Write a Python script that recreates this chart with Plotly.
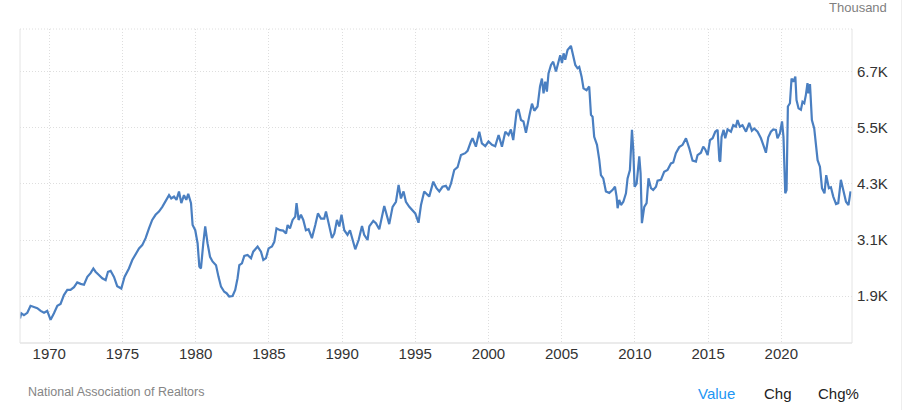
import plotly.graph_objects as go

# Existing home sales (thousand units, annualized)
years = [
    1968.00, 1968.09, 1968.27, 1968.50, 1968.72, 1968.95, 1969.18, 1969.41, 1969.64, 1969.86,
    1970.09, 1970.32, 1970.55, 1970.77, 1971.00, 1971.23, 1971.45, 1971.69, 1971.91, 1972.14,
    1972.37, 1972.60, 1972.82, 1973.01, 1973.16, 1973.39, 1973.62, 1973.85, 1974.01, 1974.19,
    1974.42, 1974.64, 1974.92, 1975.14, 1975.44, 1975.67, 1975.89, 1976.13, 1976.35, 1976.58,
    1976.81, 1977.03, 1977.26, 1977.49, 1977.72, 1977.94, 1978.18, 1978.33, 1978.52, 1978.69,
    1978.86, 1979.02, 1979.20, 1979.36, 1979.49, 1979.68, 1979.79, 1979.97, 1980.13, 1980.25,
    1980.36, 1980.52, 1980.65, 1980.81, 1980.98, 1981.15, 1981.39, 1981.56, 1981.73, 1981.95,
    1982.11, 1982.29, 1982.52, 1982.70, 1982.86, 1982.98, 1983.16, 1983.32, 1983.54, 1983.78,
    1983.93, 1984.23, 1984.46, 1984.62, 1984.80, 1984.98, 1985.21, 1985.37, 1985.52, 1985.76,
    1985.98, 1986.17, 1986.28, 1986.44, 1986.62, 1986.80, 1986.89, 1987.03, 1987.19, 1987.35,
    1987.53, 1987.71, 1987.94, 1988.17, 1988.35, 1988.56, 1988.78, 1988.90, 1989.08, 1989.31,
    1989.47, 1989.65, 1989.81, 1989.96, 1990.15, 1990.37, 1990.54, 1990.71, 1990.90, 1991.13,
    1991.36, 1991.51, 1991.74, 1991.86, 1992.13, 1992.31, 1992.54, 1992.88, 1993.04, 1993.22,
    1993.45, 1993.68, 1993.86, 1994.02, 1994.20, 1994.36, 1994.59, 1994.81, 1995.00, 1995.22,
    1995.39, 1995.61, 1995.95, 1996.23, 1996.45, 1996.64, 1996.86, 1997.09, 1997.27, 1997.44,
    1997.66, 1997.89, 1998.12, 1998.41, 1998.57, 1998.80, 1998.91, 1999.14, 1999.37, 1999.55,
    1999.78, 2000.00, 2000.24, 2000.46, 2000.69, 2000.92, 2001.15, 2001.37, 2001.53, 2001.69,
    2001.92, 2002.05, 2002.22, 2002.39, 2002.56, 2002.79, 2002.97, 2003.13, 2003.35, 2003.52,
    2003.65, 2003.76, 2003.88, 2003.99, 2004.10, 2004.27, 2004.42, 2004.61, 2004.79, 2004.90,
    2005.02, 2005.13, 2005.24, 2005.40, 2005.63, 2005.79, 2005.93, 2006.08, 2006.20, 2006.36,
    2006.49, 2006.70, 2006.88, 2007.00, 2007.11, 2007.22, 2007.41, 2007.57, 2007.68, 2007.84,
    2008.02, 2008.25, 2008.47, 2008.64, 2008.75, 2008.82, 2008.93, 2009.05, 2009.21, 2009.39,
    2009.50, 2009.66, 2009.80, 2009.89, 2009.98, 2010.12, 2010.30, 2010.39, 2010.48, 2010.64,
    2010.80, 2010.93, 2011.10, 2011.25, 2011.44, 2011.55, 2011.78, 2012.00, 2012.23, 2012.46,
    2012.62, 2012.80, 2013.03, 2013.26, 2013.49, 2013.71, 2013.94, 2014.17, 2014.28, 2014.51,
    2014.67, 2014.81, 2014.97, 2015.13, 2015.31, 2015.49, 2015.65, 2015.77, 2015.83, 2015.92,
    2016.06, 2016.17, 2016.33, 2016.56, 2016.72, 2016.90, 2017.01, 2017.17, 2017.35, 2017.59,
    2017.81, 2017.99, 2018.15, 2018.38, 2018.61, 2018.77, 2018.95, 2019.11, 2019.29, 2019.45,
    2019.63, 2019.74, 2019.91, 2020.05, 2020.15, 2020.27, 2020.36, 2020.45, 2020.59, 2020.70,
    2020.82, 2020.96, 2021.04, 2021.18, 2021.34, 2021.45, 2021.57, 2021.68, 2021.79, 2021.86,
    2021.96, 2022.09, 2022.25, 2022.48, 2022.64, 2022.78, 2022.95, 2023.07, 2023.25, 2023.39,
    2023.55, 2023.74, 2023.89, 2024.07, 2024.23, 2024.42, 2024.59, 2024.73,
]
sales = [
    1420, 1530, 1490, 1540, 1690, 1660, 1640, 1580, 1540, 1580,
    1390, 1530, 1690, 1730, 1920, 2030, 2030, 2090, 2190, 2160,
    2140, 2310, 2390, 2490, 2420, 2350, 2280, 2240, 2420, 2440,
    2310, 2110, 2060, 2310, 2490, 2670, 2780, 2920, 2990, 3140,
    3350, 3530, 3640, 3710, 3810, 3920, 4060, 3990, 4030, 3960,
    4140, 3890, 4060, 3960, 4090, 3890, 3420, 3310, 3030, 2530,
    2490, 3030, 3390, 3030, 2740, 2640, 2560, 2310, 2100, 1990,
    1960, 1890, 1900, 2030, 2280, 2560, 2600, 2760, 2780, 2710,
    2850, 2960, 2850, 2670, 2710, 2920, 2960, 3060, 3350, 3310,
    3300, 3240, 3420, 3350, 3530, 3600, 3890, 3530, 3640, 3530,
    3310, 3330, 3140, 3420, 3670, 3560, 3560, 3710, 3460, 3140,
    3240, 3530, 3390, 3640, 3310, 3210, 3310, 3100, 2900, 3100,
    3400, 3210, 3100, 3390, 3510, 3460, 3330, 3830, 3670, 3440,
    3810, 3920, 4280, 3990, 4140, 3920, 3810, 3740, 3670, 3470,
    3850, 4140, 4030, 4350, 4210, 4140, 4240, 4260, 4170, 4310,
    4600, 4660, 4920, 4960, 5010, 5210, 5280, 5100, 5420, 5170,
    5110, 5210, 5140, 5110, 5350, 5100, 5420, 5350, 5470, 5240,
    5850, 5900, 5670, 5640, 5400, 5760, 6020, 5870, 5960, 6390,
    6560, 6240, 6490, 6280, 6670, 6850, 6920, 6710, 6920, 7060,
    6890, 7100, 6960, 7170, 7260, 7060, 6850, 6780, 6810, 6600,
    6350, 6310, 6390, 5780, 5740, 5310, 5140, 4810, 4490, 4420,
    4140, 4110, 4170, 4240, 4030, 3780, 3960, 3850, 3920, 4100,
    4420, 4600, 5460, 5030, 4240, 4310, 4890, 4530, 3460, 3810,
    3890, 4420, 4210, 4170, 4240, 4370, 4390, 4560, 4600, 4740,
    4760, 4960, 5090, 5140, 5280, 5070, 4800, 4780, 4920, 4970,
    5100, 5040, 4920, 5240, 5280, 5420, 5460, 4810, 4780, 5310,
    5460, 5280, 5470, 5420, 5560, 5530, 5670, 5530, 5560, 5420,
    5610, 5440, 5490, 5420, 5280, 5140, 4970, 5300, 5420, 5470,
    5460, 5280, 5390, 5640, 5310, 4100, 4170, 5960, 6030, 6560,
    6490, 6600, 6100, 5920, 5890, 6060, 6030, 6210, 6460, 6240,
    6440, 5670, 5490, 4810, 4670, 4210, 4100, 4490, 4210, 4230,
    4030, 3870, 3890, 4390, 4140, 3920, 3850, 4140,
]

x_ticks = [1970, 1975, 1980, 1985, 1990, 1995, 2000, 2005, 2010, 2015, 2020]
x_labels = [str(v) for v in x_ticks]
y_ticks = [1900, 3100, 4300, 5500, 6700]
y_labels = ["1.9K", "3.1K", "4.3K", "5.5K", "6.7K"]

FONT = "Liberation Sans, Arial, Helvetica, sans-serif"
GRID = "#dedede"
BORDER = "#e4e4e4"
DOTS = "1px,2px"

fig = go.Figure()
fig.add_trace(go.Scatter(
    x=years, y=sales, mode="lines",
    line=dict(color="#4a7fc1", width=2.2),
    hoverinfo="skip", showlegend=False,
))

L, R, T, B = 20, 52, 29, 67
W, H = 904, 410
pw = W - L - R
ph = H - T - B

fig.update_layout(
    width=W, height=H,
    margin=dict(l=L, r=R, t=T, b=B),
    paper_bgcolor="white", plot_bgcolor="white",
    font=dict(family=FONT, color="#333333"),
    xaxis=dict(
        range=[1968.0, 2024.83], tickvals=x_ticks, ticktext=x_labels,
        showgrid=True, gridcolor=GRID, griddash=DOTS, gridwidth=1,
        zeroline=False, showline=False, ticks="",
        tickfont=dict(size=15, color="#333333"),
        fixedrange=True,
    ),
    yaxis=dict(
        range=[893, 7621], side="right", tickvals=y_ticks, ticktext=y_labels,
        showgrid=True, gridcolor=GRID, griddash=DOTS, gridwidth=1,
        zeroline=False, showline=False, ticks="",
        tickfont=dict(size=15, color="#333333"),
        ticklabelstandoff=4,
        fixedrange=True,
    ),
    shapes=[
        dict(type="line", xref="paper", yref="paper", x0=0, x1=0, y0=0, y1=1,
             line=dict(color=BORDER, width=1)),
        dict(type="line", xref="paper", yref="paper", x0=1, x1=1, y0=0, y1=1,
             line=dict(color=BORDER, width=1)),
        dict(type="line", xref="paper", yref="paper", x0=0, x1=1, y0=0, y1=0,
             line=dict(color=BORDER, width=1.5)),
        dict(type="line", xref="paper", yref="paper", x0=0, x1=1, y0=1, y1=1,
             line=dict(color=GRID, width=1, dash=DOTS)),
        dict(type="line", xref="paper", yref="paper",
             x0=(901.5 - L) / pw, x1=(901.5 - L) / pw, y0=-B / ph, y1=1 + T / ph,
             line=dict(color="#eeeeee", width=1)),
    ],
    annotations=[
        dict(text="Thousand", xref="paper", yref="paper",
             x=(889 - L) / pw, y=1 + (T - 8) / ph, xanchor="right", yanchor="middle",
             showarrow=False, font=dict(size=13, color="#7f7f7f")),
        dict(text="National Association of Realtors", xref="paper", yref="paper",
             x=(26 - L) / pw, y=-(392 - (H - B)) / ph, xanchor="left", yanchor="middle",
             showarrow=False, font=dict(size=12.5, color="#858585")),
        dict(text="Value", xref="paper", yref="paper",
             x=(696 - L) / pw, y=-(393 - (H - B)) / ph, xanchor="left", yanchor="middle",
             showarrow=False, font=dict(size=15, color="#2196f3")),
        dict(text="Chg", xref="paper", yref="paper",
             x=(762 - L) / pw, y=-(393 - (H - B)) / ph, xanchor="left", yanchor="middle",
             showarrow=False, font=dict(size=15, color="#222222")),
        dict(text="Chg%", xref="paper", yref="paper",
             x=(816 - L) / pw, y=-(393 - (H - B)) / ph, xanchor="left", yanchor="middle",
             showarrow=False, font=dict(size=15, color="#222222")),
    ],
)

fig.write_html(
    "out.html",
    config={"displayModeBar": False},
    post_script="document.body.style.margin='0';document.body.style.overflow='hidden';",
)
